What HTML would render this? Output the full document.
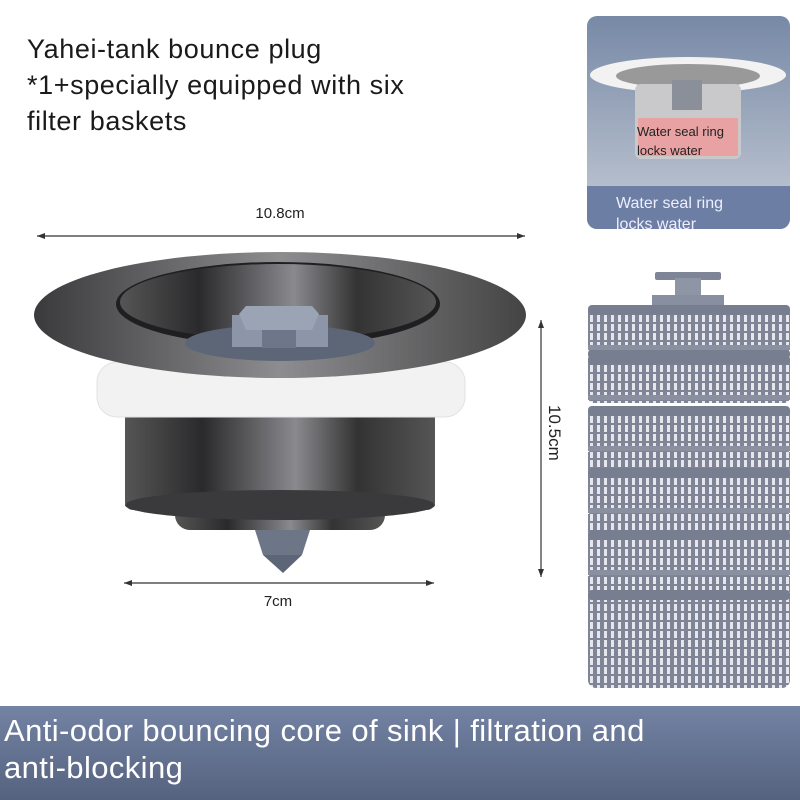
<!DOCTYPE html>
<html><head><meta charset="utf-8"><style>
html,body{margin:0;padding:0;background:#fff;}
body{width:800px;height:800px;position:relative;overflow:hidden;font-family:"Liberation Sans",sans-serif;}
.t{position:absolute;color:#222;}
</style></head><body>
<div class="t" style="left:27px;top:31px;font-size:27px;line-height:36px;letter-spacing:0.6px;color:#1a1a1a;">Yahei-tank bounce plug<br>*1+specially equipped with six<br>filter baskets</div>

<svg width="800" height="800" style="position:absolute;left:0;top:0">
<defs>
<linearGradient id="met" x1="0" x2="1"><stop offset="0" stop-color="#555"/><stop offset=".25" stop-color="#2a2a2c"/><stop offset=".55" stop-color="#8a8a8e"/><stop offset=".75" stop-color="#333"/><stop offset="1" stop-color="#555"/></linearGradient>
<linearGradient id="fl" x1="0" x2="1"><stop offset="0" stop-color="#3a3a3c"/><stop offset=".5" stop-color="#8d8d90"/><stop offset="1" stop-color="#444"/></linearGradient>
<linearGradient id="ins" x1="0" y1="0" x2="0" y2="1"><stop offset="0" stop-color="#7789a6"/><stop offset="1" stop-color="#c5cbd6"/></linearGradient>
<linearGradient id="ban" x1="0" y1="0" x2="0" y2="1"><stop offset="0" stop-color="#7483a4"/><stop offset="1" stop-color="#55627f"/></linearGradient>
<pattern id="mesh" width="7" height="9" patternUnits="userSpaceOnUse"><rect width="7" height="9" fill="#7f8597"/><rect x="2" y="1" width="3" height="7" fill="#e6e7ec"/></pattern>
<g id="bk"><rect x="0" y="0" width="202" height="48" rx="6" fill="url(#mesh)"/><rect x="0" y="0" width="202" height="10" rx="4" fill="#777e90"/><rect x="0" y="40" width="202" height="5" fill="#8a90a0"/></g>
</defs>
<line x1="37" y1="236" x2="525" y2="236" stroke="#333" stroke-width="1.2"/>
<path d="M37 236l8-3v6zM525 236l-8-3v6z" fill="#333"/>
<text x="280" y="218" font-size="15" text-anchor="middle" fill="#222">10.8cm</text>
<line x1="124" y1="583" x2="434" y2="583" stroke="#333" stroke-width="1.2"/>
<path d="M124 583l8-3v6zM434 583l-8-3v6z" fill="#333"/>
<text x="278" y="606" font-size="15" text-anchor="middle" fill="#222">7cm</text>
<line x1="541" y1="320" x2="541" y2="577" stroke="#333" stroke-width="1.2"/>
<path d="M541 320l-3 8h6zM541 577l-3-8h6z" fill="#333"/>
<text transform="translate(549,405) rotate(90)" font-size="17" fill="#222">10.5cm</text>
<rect x="175" y="495" width="210" height="35" rx="15" fill="url(#met)"/>
<path d="M255 530h55l-8 25h-39z" fill="#6d7686"/>
<path d="M263 555h39l-19 18z" fill="#5d6678"/>
<rect x="125" y="400" width="310" height="110" rx="8" fill="url(#met)"/>
<ellipse cx="280" cy="505" rx="155" ry="15" fill="#3a3a3c"/>
<rect x="97" y="362" width="368" height="55" rx="20" fill="#f2f2f2" stroke="#e2e2e2"/>
<ellipse cx="280" cy="315" rx="246" ry="63" fill="url(#fl)"/>
<ellipse cx="278" cy="304" rx="162" ry="42" fill="#1f1f22"/>
<ellipse cx="278" cy="302" rx="158" ry="38" fill="url(#met)"/>
<ellipse cx="280" cy="343" rx="95" ry="18" fill="#5d6677"/>
<rect x="232" y="315" width="96" height="32" fill="#8c96a8"/>
<rect x="262" y="322" width="34" height="26" fill="#6d7789"/>
<path d="M246 306h66l7 8-7 16h-66l-7-16z" fill="#9aa4b4"/>
<rect x="655" y="272" width="66" height="8" rx="2" fill="#7e8596"/>
<rect x="675" y="278" width="26" height="20" fill="#8e95a4"/>
<rect x="652" y="295" width="72" height="18" fill="#888fa0"/>
<use href="#bk" x="588" y="305"/>
<use href="#bk" x="588" y="355"/>
<use href="#bk" x="588" y="406"/>
<use href="#bk" x="588" y="468"/>
<use href="#bk" x="588" y="530"/>
<rect x="588" y="590" width="202" height="98" rx="8" fill="url(#mesh)"/><rect x="588" y="590" width="202" height="10" rx="4" fill="#777e90"/>
<rect x="588" y="350" width="202" height="8" rx="3" fill="#777e90"/>
<rect x="588" y="452" width="202" height="18" fill="url(#mesh)"/>
<rect x="588" y="514" width="202" height="18" fill="url(#mesh)"/>
<rect x="588" y="576" width="202" height="16" fill="url(#mesh)"/>
<rect x="588" y="468" width="202" height="10" rx="4" fill="#777e90"/>
<rect x="588" y="530" width="202" height="10" rx="4" fill="#777e90"/>
<rect x="588" y="590" width="202" height="10" rx="4" fill="#777e90"/>
<rect x="587" y="16" width="203" height="213" rx="10" fill="url(#ins)"/>
<path d="M587 186h203v33a10 10 0 0 1-10 10h-183a10 10 0 0 1-10-10z" fill="#6c7ea3"/>
<ellipse cx="688" cy="75" rx="98" ry="18" fill="#f2f2f2"/>
<ellipse cx="688" cy="76" rx="72" ry="12" fill="#999"/>
<rect x="635" y="84" width="106" height="75" rx="6" fill="#c9c9cc"/>
<rect x="638" y="118" width="100" height="38" fill="#e8a2a4"/>
<rect x="672" y="80" width="30" height="30" fill="#8a8f9a"/>
<text x="637" y="136" font-size="13" fill="#222">Water seal ring</text>
<text x="637" y="155" font-size="13" fill="#222">locks water</text>
<text x="616" y="208" font-size="16" fill="#eef">Water seal ring</text>
<text x="616" y="229" font-size="16" fill="#eef">locks water</text>
<rect x="0" y="706" width="800" height="94" fill="url(#ban)"/>
<text x="4" y="741" font-size="31" letter-spacing="0.4" fill="#fff">Anti-odor bouncing core of sink | filtration and</text>
<text x="4" y="778" font-size="31" letter-spacing="0.4" fill="#fff">anti-blocking</text>
</svg>
</body></html>
